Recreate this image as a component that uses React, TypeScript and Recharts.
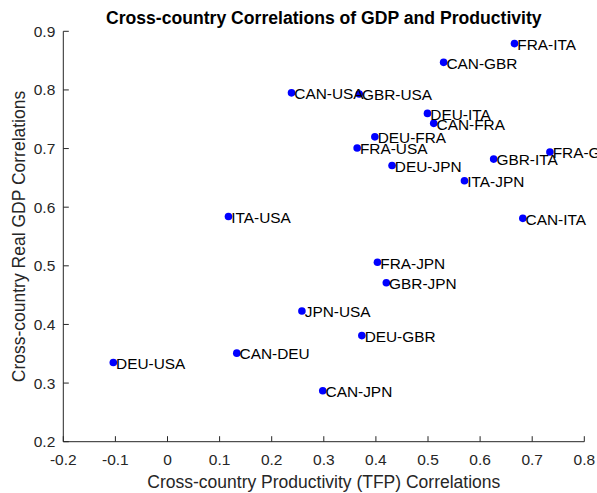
import React from 'react';
import { ScatterChart, Scatter, XAxis, YAxis } from 'recharts';

const pairLabels = [
  'FRA-ITA', 'CAN-GBR', 'CAN-USA', 'GBR-USA', 'DEU-ITA', 'CAN-FRA', 'DEU-FRA',
  'FRA-USA', 'FRA-GBR', 'GBR-ITA', 'DEU-JPN', 'ITA-JPN', 'ITA-USA', 'CAN-ITA',
  'FRA-JPN', 'GBR-JPN', 'JPN-USA', 'DEU-GBR', 'CAN-DEU', 'DEU-USA', 'CAN-JPN',
];
const tfpCorr = [
  0.666, 0.530, 0.238, 0.368, 0.499, 0.511, 0.398,
  0.364, 0.734, 0.626, 0.431, 0.570, 0.117, 0.682,
  0.403, 0.420, 0.258, 0.373, 0.133, -0.104, 0.298,
];
const gdpCorr = [
  0.879, 0.847, 0.795, 0.793, 0.760, 0.743, 0.720,
  0.701, 0.694, 0.682, 0.671, 0.645, 0.584, 0.581,
  0.506, 0.471, 0.423, 0.381, 0.351, 0.335, 0.287,
];
const xTicks = [-0.2, -0.1, 0, 0.1, 0.2, 0.3, 0.4, 0.5, 0.6, 0.7, 0.8];
const xTickLabels = ['-0.2', '-0.1', '0', '0.1', '0.2', '0.3', '0.4', '0.5', '0.6', '0.7', '0.8'];
const yTicks = [0.2, 0.3, 0.4, 0.5, 0.6, 0.7, 0.8, 0.9];
const yTickLabels = ['0.2', '0.3', '0.4', '0.5', '0.6', '0.7', '0.8', '0.9'];

const titleText = 'Cross-country Correlations of GDP and Productivity';
const xLabelText = 'Cross-country Productivity (TFP) Correlations';
const yLabelText = 'Cross-country Real GDP Correlations';

const data = pairLabels.map((name, i) => ({ name, x: tfpCorr[i], y: gdpCorr[i] }));

const W = 597;
const H = 493;
const AXIS = '#262626';
const FONT = '"Liberation Sans", Arial, Helvetica, sans-serif';
const PLOT_LEFT = 63.3;
const PLOT_RIGHT = 584.3;
const PLOT_TOP = 31.3;
const PLOT_BOTTOM = 441.7;
const X_AXIS_H = 30;
const Y_AXIS_W = 60;
const margin = {
  top: PLOT_TOP,
  right: W - PLOT_RIGHT,
  bottom: H - PLOT_BOTTOM - X_AXIS_H,
  left: PLOT_LEFT - Y_AXIS_W,
};

const XTick = (props: any) => {
  const { x, y, index } = props;
  return (
    <g>
      <line x1={x} x2={x} y1={y} y2={y - 5.5} stroke={AXIS} strokeWidth={1} />
      <text x={x} y={y + 23.5} textAnchor="middle" fontSize={15.5} fontFamily={FONT} fill={AXIS}>
        {xTickLabels[index]}
      </text>
    </g>
  );
};

const YTick = (props: any) => {
  const { x, y, index } = props;
  return (
    <g>
      <line x1={x} x2={x + 5.5} y1={y} y2={y} stroke={AXIS} strokeWidth={1} />
      <text x={x - 8} y={y + 5.5} textAnchor="end" fontSize={15.5} fontFamily={FONT} fill={AXIS}>
        {yTickLabels[index]}
      </text>
    </g>
  );
};

const Dot = (props: any) => <circle cx={props.cx} cy={props.cy} r={3.8} fill="#0000ff" />;

const PointLabel = (props: any) => (
  <text x={props.cx + 2.8} y={props.cy + 6.3} fontSize={15.4} fontFamily={FONT} fill="#000">
    {props.payload.name}
  </text>
);

export default function App() {
  const cx = (PLOT_LEFT + PLOT_RIGHT) / 2;
  const cy = (PLOT_TOP + PLOT_BOTTOM) / 2;
  return (
    <div style={{ position: 'absolute', left: 0, top: 0, width: W, height: H, background: '#fff', overflow: 'hidden' }}>
      <ScatterChart width={W} height={H} margin={margin}>
        <XAxis
          type="number"
          dataKey="x"
          domain={[-0.2, 0.8]}
          ticks={xTicks}
          height={X_AXIS_H}
          tickSize={0}
          tickMargin={0}
          tickLine={false}
          axisLine={{ stroke: AXIS, strokeWidth: 1 }}
          tick={<XTick />}
          interval={0}
        />
        <YAxis
          type="number"
          dataKey="y"
          domain={[0.2, 0.9]}
          ticks={yTicks}
          width={Y_AXIS_W}
          tickSize={0}
          tickMargin={0}
          tickLine={false}
          axisLine={{ stroke: AXIS, strokeWidth: 1 }}
          tick={<YTick />}
          interval={0}
        />
        <Scatter data={data} shape={<Dot />} isAnimationActive={false} />
        <Scatter data={data} shape={<PointLabel />} isAnimationActive={false} />
      </ScatterChart>
      <svg
        width={W}
        height={H}
        style={{ position: 'absolute', left: 0, top: 0, pointerEvents: 'none' }}
      >
        <text x={cx} y={24} textAnchor="middle" fontSize={17.6} fontWeight="bold" fontFamily={FONT} fill="#000">
          {titleText}
        </text>
        <text x={cx} y={488} textAnchor="middle" fontSize={17.5} fontFamily={FONT} fill={AXIS}>
          {xLabelText}
        </text>
        <text
          x={25}
          y={cy}
          textAnchor="middle"
          fontSize={17.5}
          fontFamily={FONT}
          fill={AXIS}
          transform={`rotate(-90, 25, ${cy})`}
        >
          {yLabelText}
        </text>
      </svg>
    </div>
  );
}
